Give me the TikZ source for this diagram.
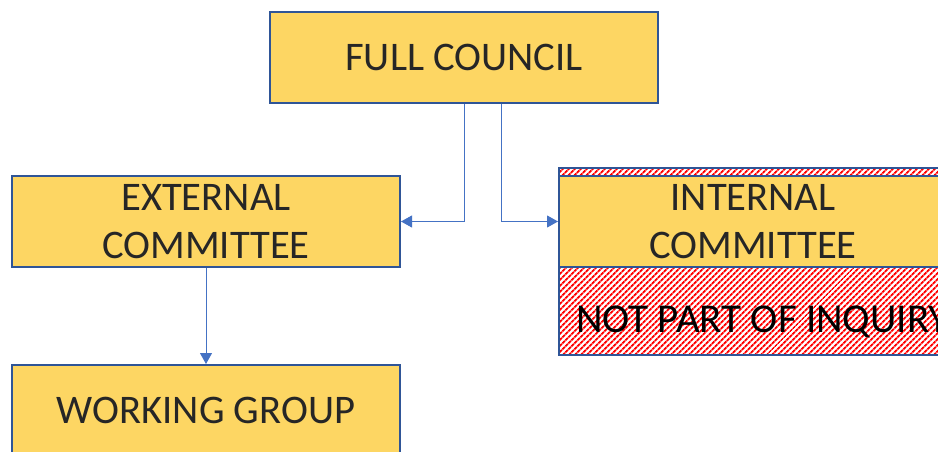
\documentclass[tikz,border=0pt]{standalone}
\usepackage{fontspec}
\setmainfont{Carlito}
\usetikzlibrary{patterns.meta,arrows.meta}
\definecolor{boxfill}{HTML}{FDD663}
\definecolor{boxline}{HTML}{2F5597}
\definecolor{connblue}{HTML}{4472C4}
\definecolor{txtgray}{HTML}{262626}
\tikzset{
  orgbox/.style={draw=boxline, line width=2pt, fill=boxfill, minimum width=388pt, minimum height=91pt,
    inner sep=0pt, align=center, text=txtgray, font=\fontsize{40.6}{48}\selectfont},
  conn/.style={draw=connblue, line width=0.9pt, -{Triangle[length=11pt,width=12pt]}},
  hatchbox/.style={draw=boxline, line width=2pt, preaction={fill=white},
    pattern={Lines[angle=45,distance=4pt,line width=2pt]}, pattern color=red}
}
\begin{document}
\begin{tikzpicture}[x=1pt,y=-1pt]
\useasboundingbox (0,0) rectangle (938,452);
\clip (0,0) rectangle (938,452);
\fill[white] (0,0) rectangle (938,452);
% hatched outer box
\path[hatchbox] (559,168) rectangle (947,355);
\node[font=\fontsize{41}{48}\selectfont, text=black, inner sep=0pt, anchor=west] (npi) at (576,322) {NOT PART OF INQUIRY};
% boxes
\node[orgbox] (fc) at (464,57.5) {FULL COUNCIL};
\node[orgbox] (ext) at (206,221.5) {EXTERNAL\\COMMITTEE};
\node[orgbox] (int) at (753,221.5) {INTERNAL\\COMMITTEE};
\node[orgbox] (wg) at (206,410.5) {WORKING GROUP};
% connectors
\draw[conn] (fc.south) |- (ext.east);
\draw[conn] ([xshift=37pt]fc.south) |- (int.west);
\draw[conn] (ext.south) -- (wg.north);
\end{tikzpicture}
\end{document}
